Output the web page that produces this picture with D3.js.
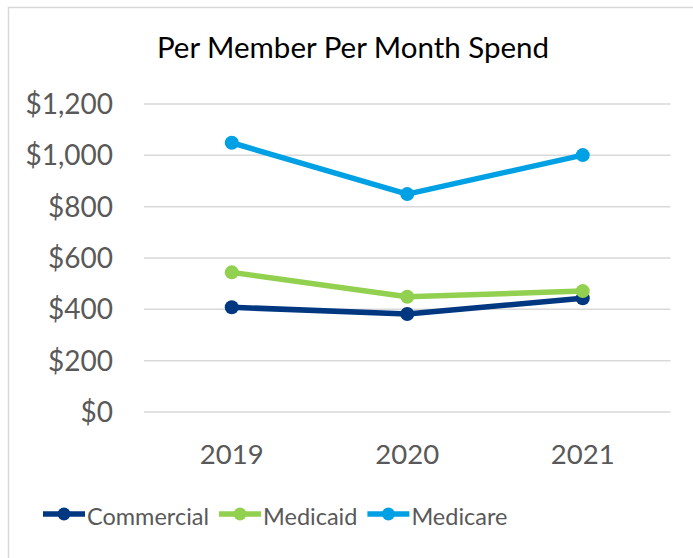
<!DOCTYPE html>
<html>
<head>
<meta charset="utf-8">
<script src="https://cdn.jsdelivr.net/npm/d3@7"></script>
<style>
  body { margin: 0; background: #fff; }
  text { font-family: Lato, "Noto Sans", sans-serif; }
</style>
</head>
<body>
<svg id="chart" width="693" height="558"></svg>
<script>
// data
const years = ['2019', '2020', '2021']
const commercial = [408, 382, 443]
const medicaid = [544, 449, 471]
const medicare = [1049, 849, 1001]
const yTicks = [0, 200, 400, 600, 800, 1000, 1200]
const seriesNames = ['Commercial', 'Medicaid', 'Medicare']
const seriesColors = ['#003781', '#92D050', '#00A1E4']

const series = [commercial, medicaid, medicare].map((vals, i) => ({
  name: seriesNames[i],
  color: seriesColors[i],
  values: vals.map((v, j) => ({ year: years[j], value: v }))
}))

const svg = d3.select('#chart')

// outer chart border
svg.append('rect')
  .attr('x', 8.5)
  .attr('y', 7.5)
  .attr('width', 700)
  .attr('height', 600)
  .attr('fill', '#fff')
  .attr('stroke', '#d9d9d9')
  .attr('stroke-width', 1.5)

svg.append('text')
  .attr('x', 353)
  .attr('y', 58)
  .attr('text-anchor', 'middle')
  .attr('font-size', 29.5)
  .attr('fill', '#000')
  .text('Per Member Per Month Spend')

const x = d3.scaleBand().domain(years).range([144, 670.5])
const y = d3.scaleLinear().domain([0, 1200]).range([412, 104])

// gridlines
svg.append('g')
  .selectAll('line')
  .data(yTicks)
  .enter()
  .append('line')
  .attr('x1', 144)
  .attr('x2', 670.5)
  .attr('y1', d => y(d))
  .attr('y2', d => y(d))
  .attr('stroke', '#d9d9d9')
  .attr('stroke-width', 1.5)

// y axis labels
const fmt = d3.format('$,')
svg.append('g')
  .selectAll('text')
  .data(yTicks)
  .enter()
  .append('text')
  .attr('x', 113)
  .attr('y', d => y(d) + 10)
  .attr('text-anchor', 'end')
  .attr('font-size', 28)
  .attr('fill', '#595959')
  .text(d => fmt(d))

// x axis labels
svg.append('g')
  .selectAll('text')
  .data(years)
  .enter()
  .append('text')
  .attr('x', d => x(d) + x.bandwidth() / 2)
  .attr('y', 464)
  .attr('text-anchor', 'middle')
  .attr('font-size', 27.5)
  .attr('fill', '#595959')
  .text(d => d)

const line = d3.line()
  .x(d => x(d.year) + x.bandwidth() / 2)
  .y(d => y(d.value))

const g = svg.append('g')
series.forEach(s => {
  g.append('path')
    .datum(s.values)
    .attr('d', line)
    .attr('fill', 'none')
    .attr('stroke', s.color)
    .attr('stroke-width', 5.5)
    .attr('stroke-linejoin', 'round')
  g.selectAll(null)
    .data(s.values)
    .enter()
    .append('circle')
    .attr('cx', d => x(d.year) + x.bandwidth() / 2)
    .attr('cy', d => y(d.value))
    .attr('r', 7)
    .attr('fill', s.color)
})

// legend
const legend = svg.append('g')
let lx = 43
series.forEach(s => {
  const item = legend.append('g').attr('transform', `translate(${lx},514)`)
  item.append('line')
    .attr('x1', 0).attr('x2', 42)
    .attr('stroke', s.color)
    .attr('stroke-width', 5.5)
  item.append('circle')
    .attr('cx', 21)
    .attr('r', 6.5)
    .attr('fill', s.color)
  const t = item.append('text')
    .attr('x', 44)
    .attr('y', 11)
    .attr('font-size', 23.5)
    .attr('fill', '#595959')
    .text(s.name)
  lx += 44 + t.node().getComputedTextLength() + 10
})
</script>
</body>
</html>
